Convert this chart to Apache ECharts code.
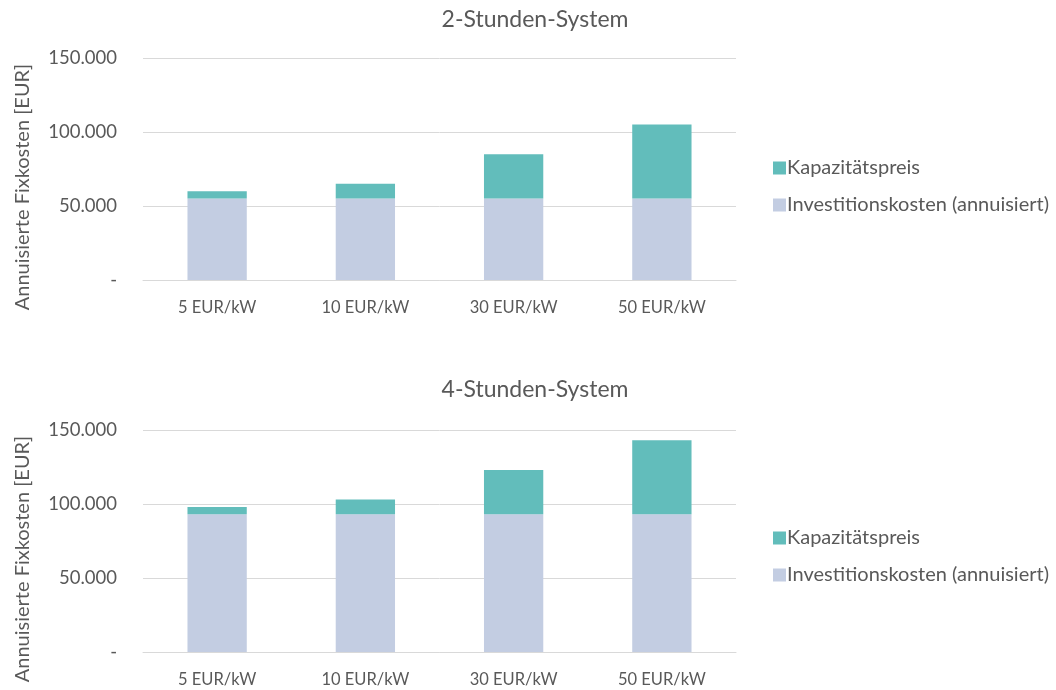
<!DOCTYPE html>
<html><head><meta charset="utf-8">
<script src="https://cdn.jsdelivr.net/npm/echarts@6/dist/echarts.min.js"></script>
<style>html,body{margin:0;padding:0;background:#fff}#c{width:1056px;height:690px}</style>
</head><body><div id="c"></div>
<script>
const categories = ['5 EUR/kW', '10 EUR/kW', '30 EUR/kW', '50 EUR/kW'];
const invest2h = [55000, 55000, 55000, 55000];
const kapazitaet2h = [5000, 10000, 30000, 50000];
const invest4h = [93000, 93000, 93000, 93000];
const kapazitaet4h = [5000, 10000, 30000, 50000];
const titles = ['2-Stunden-System', '4-Stunden-System'];
const seriesNames = ['Investitionskosten (annuisiert)', 'Kapazitätspreis'];
const yAxisName = 'Annuisierte Fixkosten [EUR]';

const FONT = 'Lato';
const TXT = '#595959';
const GRID = '#D9D9D9';
const C_INV = '#C3CDE2';
const C_KAP = '#62BDBB';

function fmt(v){ if(v===0) return '-'; return String(v).replace(/\B(?=(\d{3})+(?!\d))/g,'.'); }

const grids = [{left:143, right:320, top:58, height:222}, {left:143, right:320, top:430, height:222}];
const option = {
  animation:false,
  textStyle:{fontFamily:FONT, color:TXT},
  title: titles.map((t,i)=>({text:t, left:530, top: i===0?3:373, textAlign:'center',
    textStyle:{fontFamily:FONT, fontSize:23, fontWeight:'normal', color:TXT}})),
  legend: [166, 536].map(top=>({orient:'vertical', left:768, top:top-13, itemWidth:13, itemHeight:13, itemGap:17,
    icon:'rect', data:[seriesNames[1], seriesNames[0]],
    textStyle:{fontFamily:FONT, fontSize:20, color:TXT, padding:[0,0,0,-4]}})),
  grid: grids,
  xAxis: [0,1].map(i=>({type:'category', gridIndex:i, data:categories,
    axisLine:{lineStyle:{color:GRID}}, axisTick:{show:false},
    axisLabel:{fontFamily:FONT, fontSize:16.5, color:TXT, margin:19}})),
  yAxis: [0,1].map(i=>({type:'value', gridIndex:i, min:0, max:150000, interval:50000,
    name:yAxisName, nameLocation:'middle', nameRotate:90, nameGap:110,
    nameTextStyle:{fontFamily:FONT, fontSize:20, color:TXT, padding:[0,36,0,0]},
    axisLine:{show:false}, axisTick:{show:false},
    splitLine:{lineStyle:{color:GRID}},
    axisLabel:{fontFamily:FONT, fontSize:18.5, color:TXT, margin:26, formatter:fmt}})),
  series: [
    {name:seriesNames[0], type:'bar', stack:'a', xAxisIndex:0, yAxisIndex:0, data:invest2h, barWidth:'40%', itemStyle:{color:C_INV}},
    {name:seriesNames[1], type:'bar', stack:'a', xAxisIndex:0, yAxisIndex:0, data:kapazitaet2h, barWidth:'40%', itemStyle:{color:C_KAP}},
    {name:seriesNames[0], type:'bar', stack:'b', xAxisIndex:1, yAxisIndex:1, data:invest4h, barWidth:'40%', itemStyle:{color:C_INV}},
    {name:seriesNames[1], type:'bar', stack:'b', xAxisIndex:1, yAxisIndex:1, data:kapazitaet4h, barWidth:'40%', itemStyle:{color:C_KAP}}
  ]
};
echarts.init(document.getElementById('c')).setOption(option);
</script></body></html>
